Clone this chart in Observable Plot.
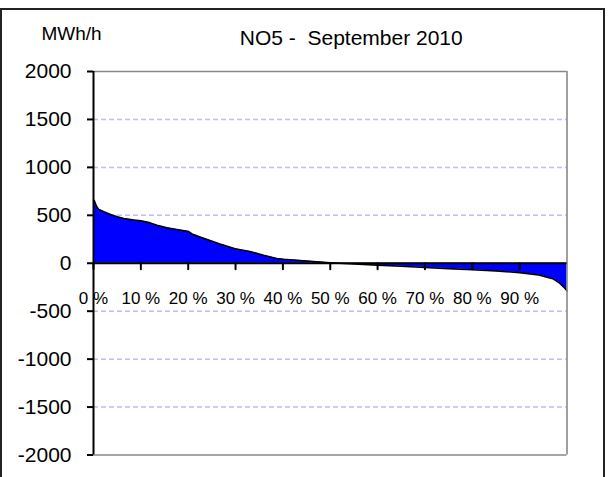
<!DOCTYPE html>
<html>
<head>
<meta charset="utf-8">
<script src="https://cdn.jsdelivr.net/npm/d3@7"></script>
<script src="https://cdn.jsdelivr.net/npm/@observablehq/plot@0.6"></script>
<style>
  html, body { margin: 0; padding: 0; background: #fff; }
  #wrap { position: relative; width: 609px; height: 477px; overflow: hidden; }
  #border { position: absolute; left: 0px; top: 8px; width: 605px; height: 490px; border: 2px solid #222; box-sizing: border-box; pointer-events: none; }
  #chart { position: absolute; left: 0; top: 0; }
</style>
</head>
<body>
<div id="wrap">
  <div id="chart"></div>
  <div id="border"></div>
</div>
<script>
const title = "NO5 -  September 2010";
const unitLabel = "MWh/h";

// duration curve: share of hours (%) and value (MWh/h)
const pct = [0, 0.2, 0.6, 1.1, 2.2, 3.6, 5, 6.4, 8.5, 10, 12, 13.4, 15.5, 17.6, 20.1, 20.8, 22.5, 24.6, 26.7, 29.9, 33, 35.9, 38.7, 40.1, 42.9, 45.7, 48.5, 50, 52, 55, 60, 65, 70, 75, 80, 85, 90, 94, 97, 98.5, 99.6, 100];
const val = [660, 650, 597, 562, 537, 509, 485, 467, 450, 442, 421, 397, 369, 352, 331, 305, 274, 236, 200, 151, 123, 84, 50, 42, 32, 21, 10, 5, 0, -8, -20, -32, -45, -56, -68, -80, -98, -122, -161, -210, -263, -287];

const yTicks = [-2000, -1500, -1000, -500, 0, 500, 1000, 1500, 2000];
const gridTicks = [-1500, -1000, -500, 500, 1000, 1500];
const xTicks = [0, 10, 20, 30, 40, 50, 60, 70, 80, 90];
const xTickLabels = ["0 %", "10 %", "20 %", "30 %", "40 %", "50 %", "60 %", "70 %", "80 %", "90 %"];

const data = pct.map((p, i) => ({p, v: val[i]}));
const xLabelData = xTicks.map((t, i) => ({t, label: xTickLabels[i]}));

const font = "Liberation Sans, Arial, sans-serif";

const chart = Plot.plot({
  width: 609,
  height: 477,
  marginTop: 71,
  marginBottom: 22.5,
  marginLeft: 93,
  marginRight: 42.5,
  style: {fontFamily: font, background: "transparent", overflow: "visible"},
  x: {domain: [0, 100], axis: null},
  y: {domain: [-2000, 2000], axis: null},
  marks: [
    Plot.ruleY(gridTicks, {stroke: "#bcbcff", strokeWidth: 1.5, strokeDasharray: "5,3"}),
    Plot.areaY(data, {x: "p", y: "v", fill: "#0000ff"}),
    Plot.lineY(data, {x: "p", y: "v", stroke: "#000", strokeWidth: 1.6}),
    Plot.ruleY([2000, -2000], {stroke: "#888", strokeWidth: 1.6}),
    Plot.ruleX([100], {stroke: "#888", strokeWidth: 1.6}),
    Plot.text(xLabelData, {x: "t", y: 0, text: "label", dy: 35, fontSize: 17, fill: "#000", textAnchor: "middle"}),
    Plot.ruleY([0], {stroke: "#000", strokeWidth: 2}),
    Plot.vector(xTicks, {
      x: d => d, y: 0, length: 6, rotate: 180, anchor: "start",
      stroke: "#000", strokeWidth: 2,
      shape: {draw(context, l) { context.moveTo(0, 0); context.lineTo(0, -l); }}
    }),
    Plot.ruleX([0], {stroke: "#000", strokeWidth: 2}),
    Plot.axisY({ticks: yTicks, tickSize: 6, tickPadding: 16, fontSize: 21, tickFormat: d => String(d), label: null, stroke: "#000", strokeWidth: 2, fill: "#000"}),
    Plot.text([title], {frameAnchor: "top", dx: 21, dy: -33, fontSize: 21, fill: "#000", lineAnchor: "middle"}),
    Plot.text([unitLabel], {frameAnchor: "top-left", dx: -22, dy: -38, fontSize: 19, fill: "#000", textAnchor: "middle", lineAnchor: "middle"})
  ]
});
document.getElementById("chart").appendChild(chart);
</script>
</body>
</html>
